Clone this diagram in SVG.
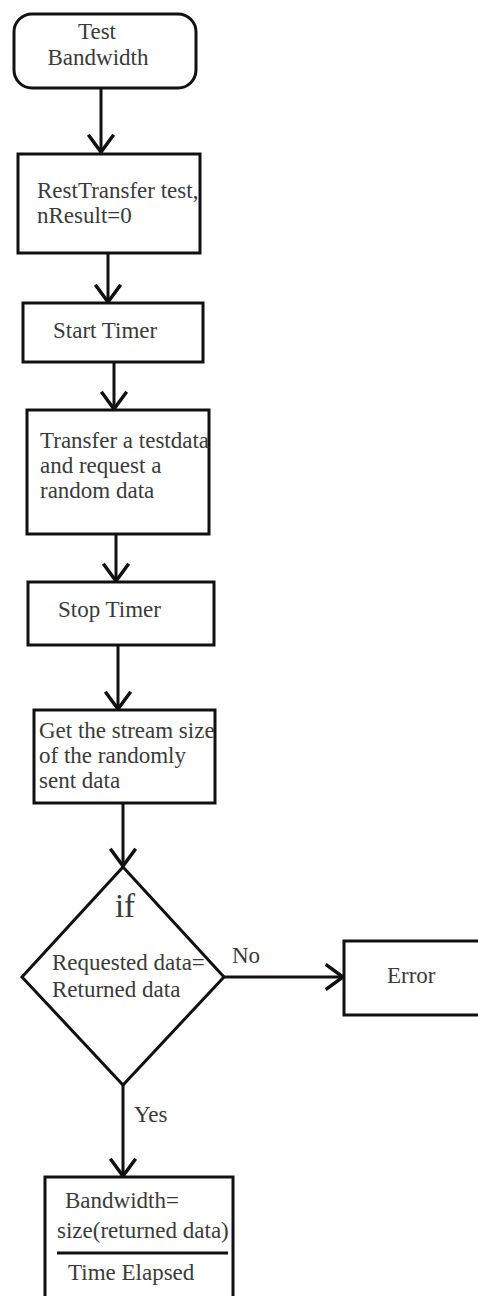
<svg xmlns="http://www.w3.org/2000/svg" width="478" height="1296" viewBox="0 0 478 1296">
<style>
.n{fill:#fff;stroke:#111;stroke-width:3}
.t{font-family:'Liberation Serif','Times New Roman','DejaVu Serif',serif;font-size:23px;fill:#3a3a3a}
.c{fill:none;stroke:#111;stroke-width:3}
</style>
<defs>
<marker id="ah" markerUnits="userSpaceOnUse" markerWidth="30" markerHeight="30" viewBox="-17 -13 20 26" refX="0" refY="0" orient="auto">
<path d="M-15,-11 L0,0 L-15,11" fill="none" stroke="#111" stroke-width="3"/>
</marker>
</defs>
<rect width="478" height="1296" fill="#fff"/>
<g id="connectors">
<line class="c" x1="101" y1="88" x2="101" y2="152" marker-end="url(#ah)"/>
<line class="c" x1="108" y1="253" x2="108" y2="302" marker-end="url(#ah)"/>
<line class="c" x1="114" y1="362" x2="114" y2="409" marker-end="url(#ah)"/>
<line class="c" x1="116" y1="534" x2="116" y2="581" marker-end="url(#ah)"/>
<line class="c" x1="118" y1="645" x2="118" y2="709" marker-end="url(#ah)"/>
<line class="c" x1="123" y1="803" x2="123" y2="866" marker-end="url(#ah)"/>
<line class="c" x1="224" y1="977" x2="343" y2="977" marker-end="url(#ah)"/>
<line class="c" x1="123" y1="1085" x2="123" y2="1176" marker-end="url(#ah)"/>
<text class="t" x="232" y="963">No</text>
<text class="t" x="134" y="1122">Yes</text>
</g>
<g id="start">
<rect class="n" x="14" y="14" width="182" height="74" rx="18"/>
<text class="t" x="97" y="39" text-anchor="middle">Test</text>
<text class="t" x="98" y="65" text-anchor="middle">Bandwidth</text>
</g>
<g id="reset">
<rect class="n" x="18" y="154" width="182" height="99"/>
<text class="t" x="37" y="198">RestTransfer test,</text>
<text class="t" x="37" y="223">nResult=0</text>
</g>
<g id="starttimer">
<rect class="n" x="23" y="303" width="180" height="59"/>
<text class="t" x="53" y="338">Start Timer</text>
</g>
<g id="transfer">
<rect class="n" x="27" y="410" width="182" height="124"/>
<text class="t" x="40" y="448">Transfer a testdata</text>
<text class="t" x="40" y="473">and request a</text>
<text class="t" x="40" y="498">random data</text>
</g>
<g id="stoptimer">
<rect class="n" x="28" y="582" width="186" height="63"/>
<text class="t" x="58" y="617">Stop Timer</text>
</g>
<g id="streamsize">
<rect class="n" x="34" y="710" width="181" height="93"/>
<text class="t" x="39" y="738">Get the stream size</text>
<text class="t" x="39" y="763">of the randomly</text>
<text class="t" x="39" y="788">sent data</text>
</g>
<g id="decision">
<polygon class="n" points="123,867 224,977 123,1085 22,977"/>
<text class="t" x="125" y="917" text-anchor="middle" style="font-size:33px">if</text>
<text class="t" x="52" y="970">Requested data=</text>
<text class="t" x="52" y="997">Returned data</text>
</g>
<g id="error">
<rect class="n" x="344" y="941" width="150" height="74"/>
<text class="t" x="387" y="983">Error</text>
</g>
<g id="bandwidth">
<rect class="n" x="45" y="1177" width="188" height="130"/>
<text class="t" x="65" y="1208">Bandwidth=</text>
<text class="t" x="57" y="1238">size(returned data)</text>
<line class="c" x1="57" y1="1253" x2="228" y2="1253"/>
<text class="t" x="68" y="1280">Time Elapsed</text>
</g>
</svg>
